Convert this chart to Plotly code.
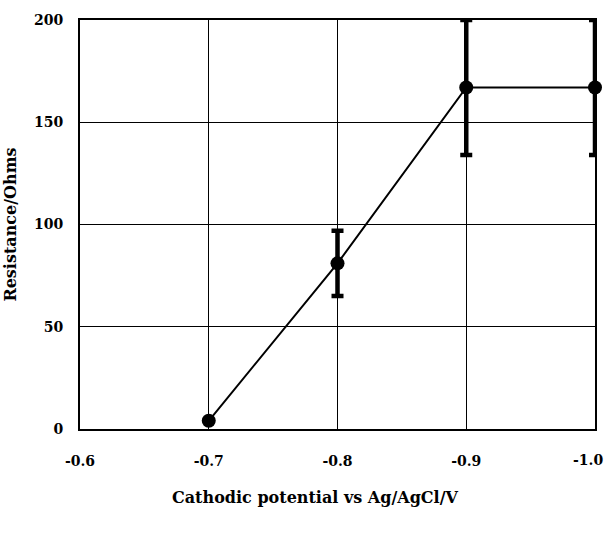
import plotly.graph_objects as go

potential = [-0.7, -0.8, -0.9, -1.0]
resistance = [4, 81, 167, 167]
err_plus = [0, 16, 33, 33]
err_minus = [0, 16, 33, 33]

x_ticks = [-0.6, -0.7, -0.8, -0.9, -1.0]
x_tick_labels = ["-0.6", "-0.7", "-0.8", "-0.9", "-1.0"]
y_ticks = [0, 50, 100, 150, 200]

font_family = "DejaVu Serif, Liberation Serif, serif"
tick_font = dict(family=font_family, size=14, color="black", weight="bold")

# the last label sits at the page edge, so it is placed as an annotation
tick_text = x_tick_labels[:-1] + [""]

fig = go.Figure()
fig.add_trace(go.Scatter(
    x=potential, y=resistance, mode="lines+markers",
    line=dict(color="black", width=2),
    marker=dict(color="black", size=14),
    error_y=dict(type="data", symmetric=False, array=err_plus, arrayminus=err_minus,
                 color="black", thickness=4.5, width=6),
    cliponaxis=False,
    showlegend=False,
))

fig.update_layout(
    width=608, height=534,
    margin=dict(l=80, r=13, t=20, b=105),
    paper_bgcolor="white", plot_bgcolor="white",
    font=dict(family=font_family, color="black", size=14),
    xaxis=dict(
        range=[-0.6, -1.0], tickvals=x_ticks, ticktext=tick_text,
        showgrid=True, gridcolor="black", gridwidth=1,
        showline=True, linecolor="black", linewidth=2, mirror=True,
        zeroline=False, ticks="", ticklabelstandoff=18,
        ticklabeloverflow="allow", automargin=False,
        tickfont=tick_font,
    ),
    yaxis=dict(
        range=[0, 200], tickvals=y_ticks,
        showgrid=True, gridcolor="black", gridwidth=1,
        showline=True, linecolor="black", linewidth=2, mirror=True,
        zeroline=False, ticks="", ticklabelstandoff=12, automargin=False,
        tickfont=tick_font,
        title=dict(text="<b>Resistance/Ohms</b>", standoff=13,
                   font=dict(family=font_family, size=16, color="black")),
    ),
    annotations=[
        dict(
            text="<b>Cathodic potential vs Ag/AgCl/V</b>",
            xref="paper", yref="paper", x=(315 - 80) / 515, y=(429 - 497) / 409,
            xanchor="center", yanchor="middle", showarrow=False,
            font=dict(family=font_family, size=16, color="black"),
        ),
        dict(
            text=x_tick_labels[-1],
            xref="x", yref="paper", x=x_ticks[-1], y=0,
            xanchor="right", yanchor="middle", xshift=10, yshift=-31,
            showarrow=False, font=tick_font,
        ),
    ],
)

fig.write_html("out.html")
